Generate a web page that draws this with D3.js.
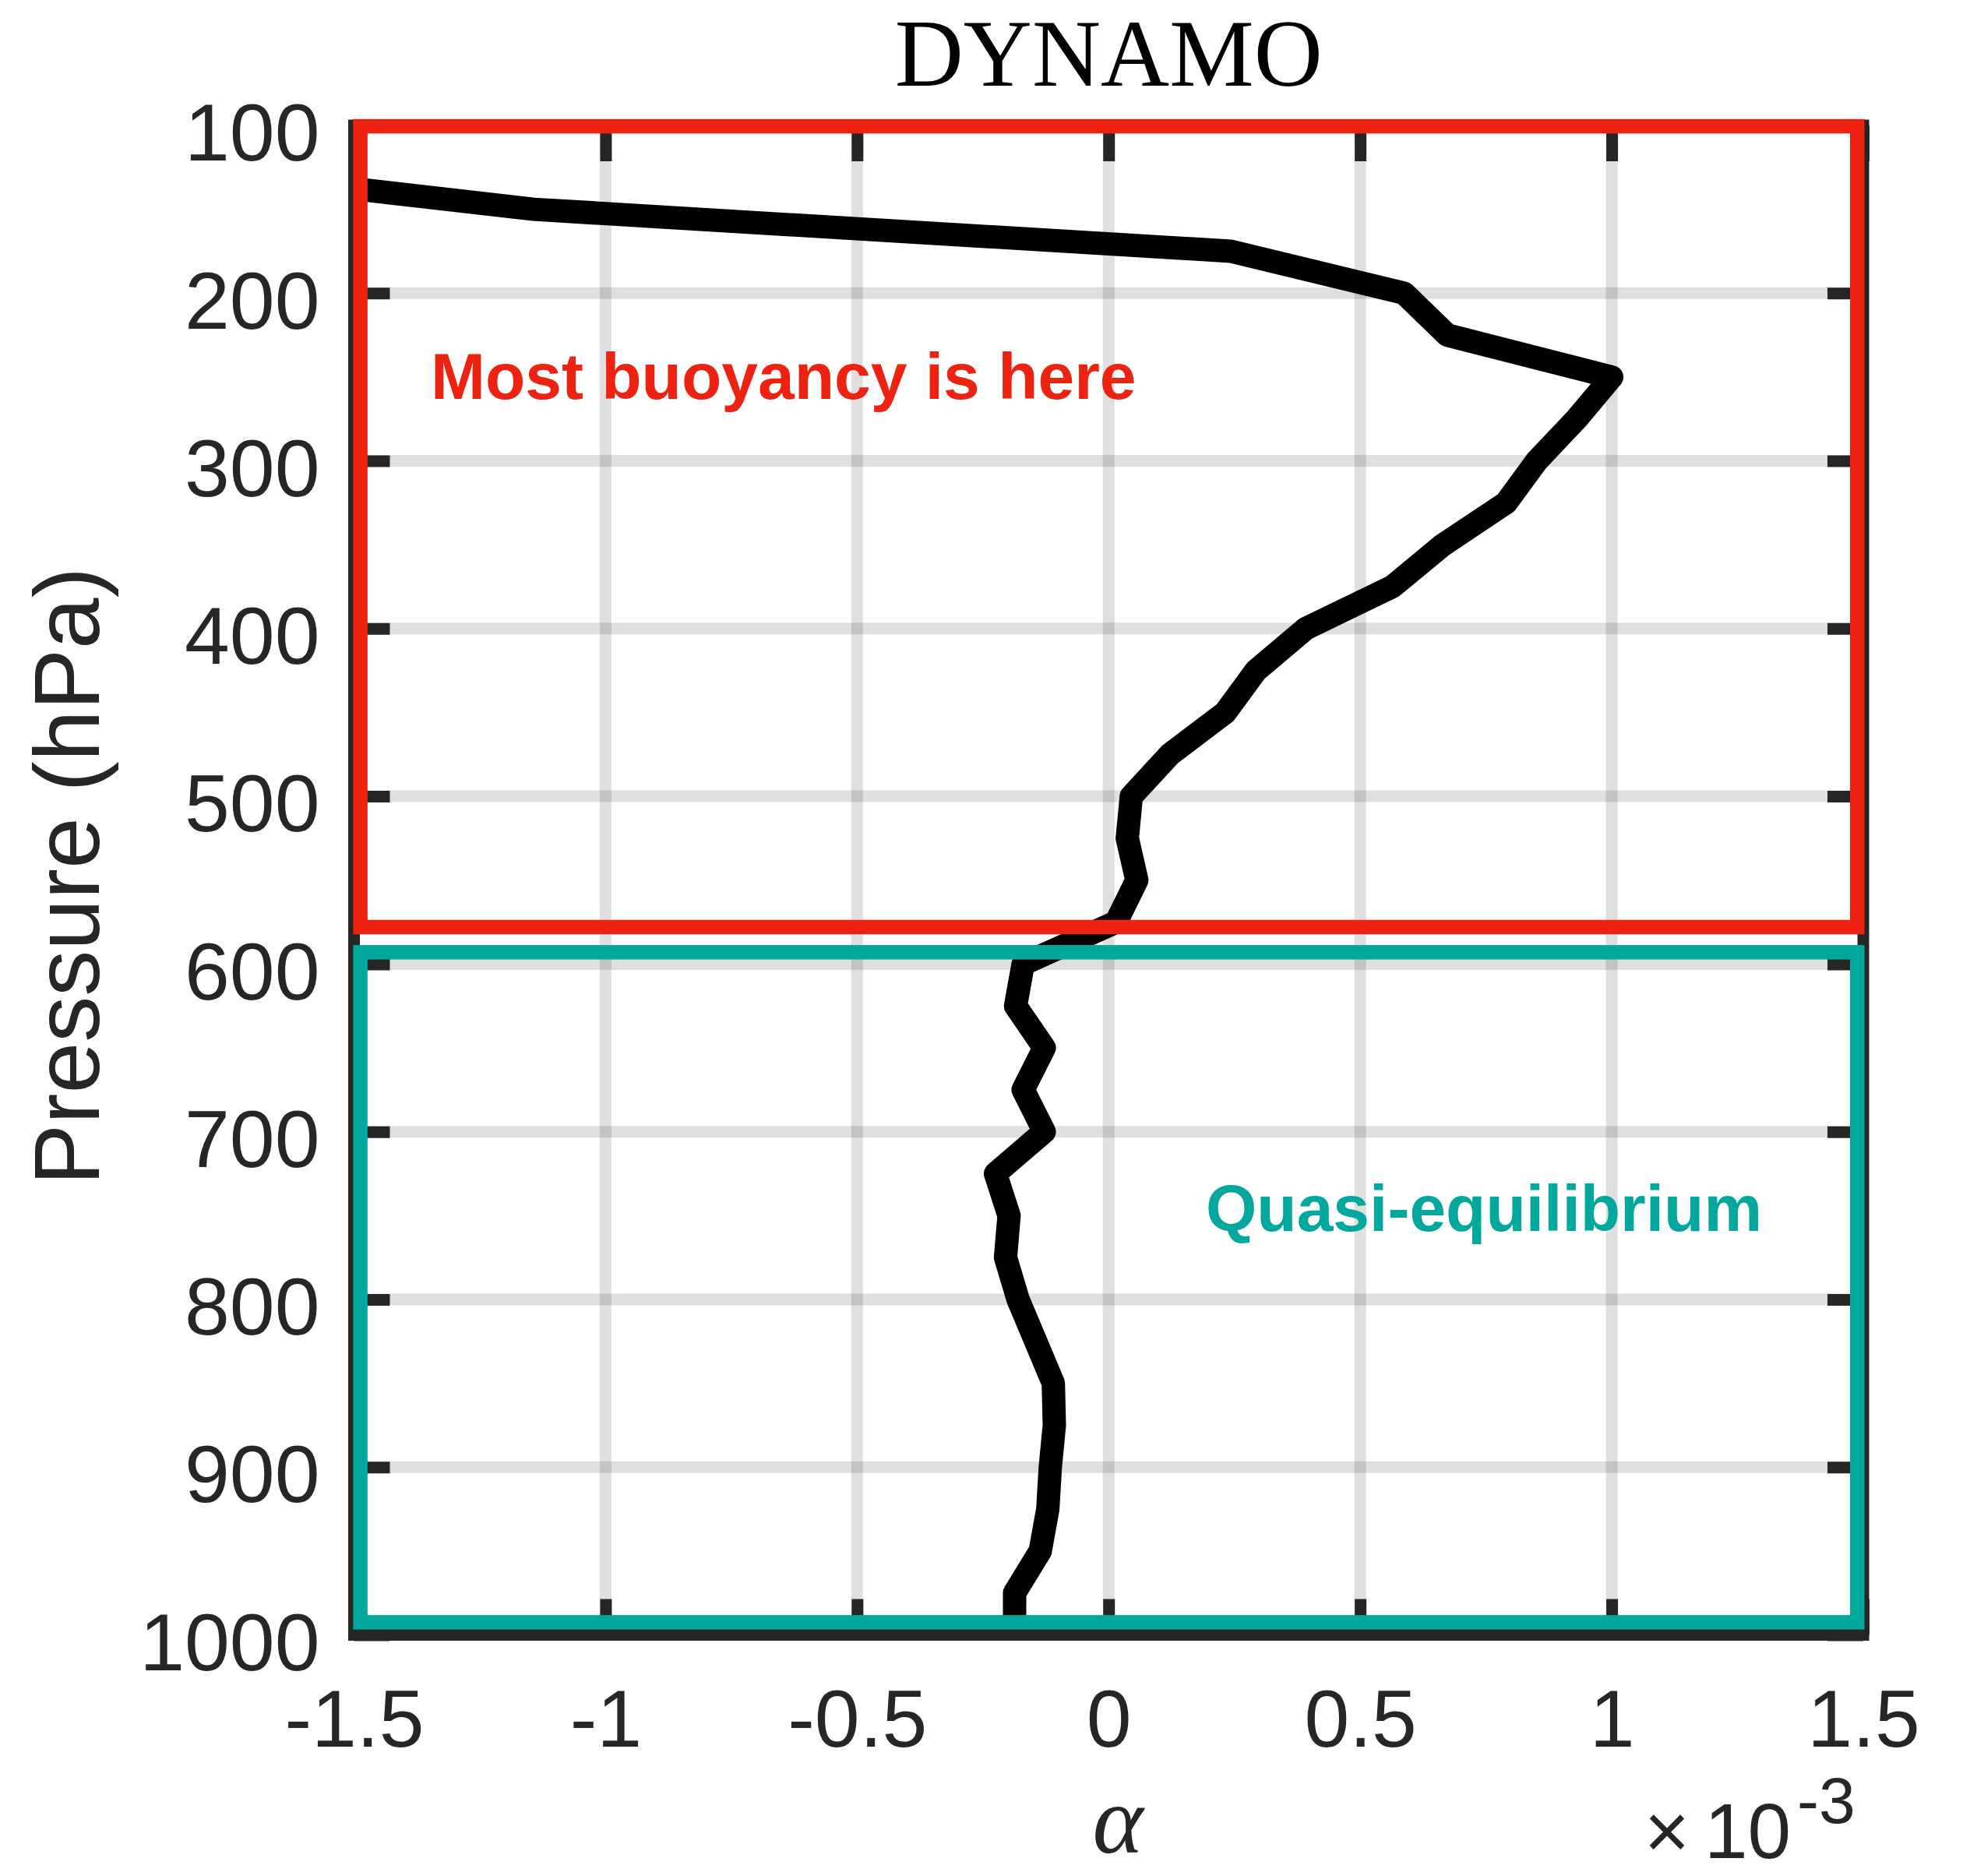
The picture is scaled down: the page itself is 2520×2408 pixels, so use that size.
<!DOCTYPE html>
<html>
<head>
<meta charset="utf-8">
<title>DYNAMO</title>
<script src="https://cdn.jsdelivr.net/npm/d3@7"></script>
<style>
  html, body { margin: 0; padding: 0; background: #ffffff; }
  svg { display: block; }
</style>
</head>
<body>
<div id="chart"></div>
<script>
// Vertical profile of alpha (units of 1e-3) against pressure (hPa)
const pressureLevels = [125, 150, 175, 200, 225, 250, 275, 300, 325, 350, 375, 400,
  425, 450, 475, 500, 525, 550, 575, 600, 625, 650, 675, 700, 725, 750, 775, 800,
  825, 850, 875, 900, 925, 950, 975, 1000];
const alphaValues = [-1.87, -1.143, 0.243, 0.587, 0.673, 1.0, 0.93, 0.851, 0.79, 0.665, 0.564, 0.392,
  0.293, 0.232, 0.122, 0.045, 0.037, 0.056, 0.015, -0.170, -0.185, -0.128, -0.170, -0.128,
  -0.225, -0.198, -0.205, -0.180, -0.145, -0.110, -0.108, -0.116, -0.121, -0.136, -0.187, -0.187];

const xTickValues = [-1.5, -1, -0.5, 0, 0.5, 1, 1.5];
const xTickLabels = ["-1.5", "-1", "-0.5", "0", "0.5", "1", "1.5"];
const yTickValues = [100, 200, 300, 400, 500, 600, 700, 800, 900, 1000];
const yTickLabels = ["100", "200", "300", "400", "500", "600", "700", "800", "900", "1000"];

// Highlighted layers: [alpha left, alpha right], [pressure top, pressure bottom]
const buoyantLayerAlpha = [-1.4875, 1.488];
const buoyantLayerPressure = [100.5, 578];
const equilibriumLayerAlpha = [-1.4875, 1.488];
const equilibriumLayerPressure = [593, 992.5];

const W = 2520, H = 2408;
const axisColor = "#262626";
const red = "#ee2211";
const teal = "#02a89e";
const sans = "'Liberation Sans', Arial, Helvetica, sans-serif";
const serif = "'Liberation Serif', 'Times New Roman', serif";

const svg = d3.select("#chart").append("svg")
  .attr("width", W).attr("height", H)
  .attr("viewBox", `0 0 ${W} ${H}`);

svg.append("rect").attr("width", W).attr("height", H).attr("fill", "#fff");

const x = d3.scaleLinear().domain([-1.5, 1.5]).range([454.5, 2392]);
const y = d3.scaleLinear().domain([100, 1000]).range([161, 2098.5]);

const [x0, x1] = x.range();
const [y0, y1] = y.range();

// grid
const grid = svg.append("g").attr("stroke", axisColor).attr("stroke-opacity", 0.15).attr("stroke-width", 15);
grid.selectAll("line.gx").data(xTickValues.slice(1, -1)).join("line")
  .attr("class", "gx")
  .attr("x1", d => x(d)).attr("x2", d => x(d))
  .attr("y1", y0).attr("y2", y1);
grid.selectAll("line.gy").data(yTickValues.slice(1, -1)).join("line")
  .attr("class", "gy")
  .attr("x1", x0).attr("x2", x1)
  .attr("y1", d => y(d)).attr("y2", d => y(d));

// profile
svg.append("clipPath").attr("id", "plotClip")
  .append("rect").attr("x", x0).attr("y", y0).attr("width", x1 - x0).attr("height", y1 - y0);

const profile = pressureLevels.map((p, i) => ({ p, a: alphaValues[i] }));
const line = d3.line().x(d => x(d.a)).y(d => y(d.p));
svg.append("path")
  .datum(profile)
  .attr("clip-path", "url(#plotClip)")
  .attr("d", line)
  .attr("fill", "none")
  .attr("stroke", "#000")
  .attr("stroke-width", 30)
  .attr("stroke-linejoin", "round")
  .attr("stroke-linecap", "butt");

// axes
const tickLen = -46;
const tickFont = 104;

function styleAxis(g) {
  g.select(".domain").remove();
  g.selectAll(".tick line").attr("stroke", axisColor).attr("stroke-width", 15);
  g.selectAll(".tick text")
    .attr("fill", axisColor)
    .attr("font-family", sans)
    .attr("font-size", tickFont);
}

svg.append("g")
  .attr("transform", `translate(0,${y1})`)
  .call(d3.axisBottom(x).tickValues(xTickValues).tickSize(tickLen).tickPadding(70)
    .tickFormat((d, i) => xTickLabels[i]))
  .call(styleAxis)
  .call(g => g.selectAll(".tick text").attr("dy", "0.71em"));

svg.append("g")
  .attr("transform", `translate(0,${y0})`)
  .call(d3.axisTop(x).tickValues(xTickValues).tickSize(tickLen).tickFormat(() => ""))
  .call(styleAxis);

svg.append("g")
  .attr("transform", `translate(${x0},0)`)
  .call(d3.axisLeft(y).tickValues(yTickValues).tickSize(tickLen).tickPadding(44)
    .tickFormat((d, i) => yTickLabels[i]))
  .call(styleAxis)
  .call(g => g.selectAll(".tick text").attr("dy", "0.43em"));

svg.append("g")
  .attr("transform", `translate(${x1},0)`)
  .call(d3.axisRight(y).tickValues(yTickValues).tickSize(tickLen).tickFormat(() => ""))
  .call(styleAxis);

svg.append("rect")
  .attr("x", x0).attr("y", y0)
  .attr("width", x1 - x0).attr("height", y1 - y0)
  .attr("fill", "none")
  .attr("stroke", axisColor)
  .attr("stroke-width", 15);

// layer boxes
function layerBox(ax, pr, color) {
  svg.append("rect")
    .attr("x", x(ax[0])).attr("y", y(pr[0]))
    .attr("width", x(ax[1]) - x(ax[0]))
    .attr("height", y(pr[1]) - y(pr[0]))
    .attr("fill", "none")
    .attr("stroke", color)
    .attr("stroke-width", 18.5);
}
layerBox(buoyantLayerAlpha, buoyantLayerPressure, red);
layerBox(equilibriumLayerAlpha, equilibriumLayerPressure, teal);

// annotations
svg.append("text")
  .attr("x", 553).attr("y", 512)
  .attr("font-family", sans).attr("font-weight", "bold").attr("font-size", 84)
  .attr("fill", red)
  .text("Most buoyancy is here");

svg.append("text")
  .attr("x", 1548).attr("y", 1580)
  .attr("font-family", sans).attr("font-weight", "bold").attr("font-size", 84)
  .attr("fill", teal)
  .text("Quasi-equilibrium");

// title
svg.append("text")
  .attr("x", (x0 + x1) / 2).attr("y", 110)
  .attr("text-anchor", "middle")
  .attr("font-family", serif).attr("font-size", 122)
  .attr("fill", "#000")
  .text("DYNAMO");

// axis labels
svg.append("text")
  .attr("transform", `translate(127,${(y0 + y1) / 2 - 5}) rotate(-90)`)
  .attr("text-anchor", "middle")
  .attr("font-family", sans).attr("font-size", 118)
  .attr("fill", axisColor)
  .text("Pressure (hPa)");

svg.append("text")
  .attr("x", 1435).attr("y", 2378)
  .attr("text-anchor", "middle")
  .attr("font-family", serif).attr("font-style", "italic").attr("font-size", 124)
  .attr("fill", axisColor)
  .text("α");

// exponent of the alpha axis
const expo = svg.append("g").attr("fill", axisColor).attr("font-family", sans);
expo.append("text").attr("x", 2140).attr("y", 2385).attr("text-anchor", "middle")
  .attr("font-size", 100).text("×");
expo.append("text").attr("x", 2188).attr("y", 2385).attr("font-size", 100).text("10");
expo.append("text").attr("x", 2307).attr("y", 2340).attr("font-size", 84).text("-3");
</script>
</body>
</html>
